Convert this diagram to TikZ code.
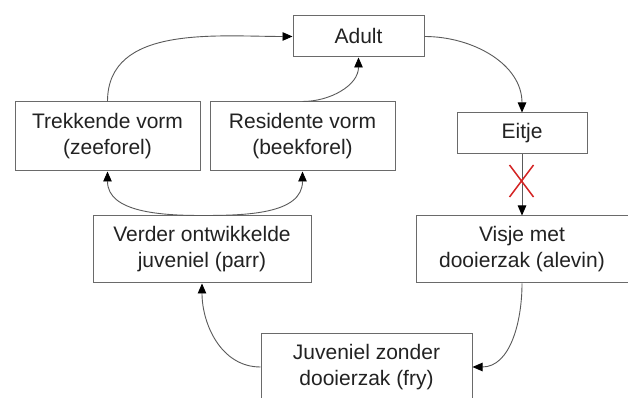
\documentclass[tikz,border=0pt]{standalone}
\usepackage{fontspec}
\setmainfont{Liberation Sans}
\usetikzlibrary{arrows.meta}
\definecolor{linegray}{HTML}{5A5A5A}
\definecolor{boxgray}{HTML}{6A6A6A}
\definecolor{txtgray}{HTML}{222222}
\definecolor{xred}{HTML}{D42525}
\tikzset{
  stage/.style={draw=boxgray, line width=1pt, fill=white, align=center,
    text=txtgray, inner sep=0pt,
    font=\fontsize{21}{26}\selectfont},
  flow/.style={draw=linegray, line width=0.9pt,
    -{Triangle[length=10pt,width=8.5pt,fill=black,color=black]}},
}
\begin{document}
\begin{tikzpicture}[x=1pt,y=1pt]
\clip (0,0) rectangle (628,398);
\fill[white] (0,0) rectangle (628,398);
\node[stage, minimum width=131pt, minimum height=41pt] (adult) at (358.5,361.5) {Adult};
\node[stage, minimum width=185pt, minimum height=69pt] (trek) at (107.5,261.5) {Trekkende vorm\\(zeeforel)};
\node[stage, minimum width=185pt, minimum height=69pt] (res) at (302.5,261.5) {Residente vorm\\(beekforel)};
\node[stage, minimum width=130pt, minimum height=41pt] (eitje) at (522,264.5) {Eitje};
\node[stage, minimum width=218pt, minimum height=67pt] (verder) at (202,148.5) {Verder ontwikkelde\\juveniel (parr)};
\node[stage, minimum width=212pt, minimum height=67pt] (visje) at (522,148.5) {Visje met\\dooierzak (alevin)};
\node[stage, minimum width=211pt, minimum height=66pt] (juv) at (366.5,31) {Juveniel zonder\\dooierzak (fry)};
\draw[flow] (trek.north) to[out=90,in=180] (adult.west);
\draw[flow] (res.north) to[out=0,in=-90] (adult.south);
\draw[flow] (adult.east) to[out=0,in=90] (eitje.north);
\draw[flow] (eitje.south) -- (visje.north);
\draw[flow] (visje.south) to[out=-90,in=0] (juv.east);
\draw[flow] (juv.west) to[out=180,in=-90] (verder.south);
\draw[flow] (verder.north) to[out=180,in=-90] (trek.south);
\draw[flow] (verder.north) to[out=0,in=-90] (res.south);
\coordinate (cross) at (521.5,217);
\draw[xred, line width=1.5pt] ([shift={(-12,-16)}]cross) -- ([shift={(12,16)}]cross)
  ([shift={(-12,16)}]cross) -- ([shift={(12,-16)}]cross);
\end{tikzpicture}
\end{document}
